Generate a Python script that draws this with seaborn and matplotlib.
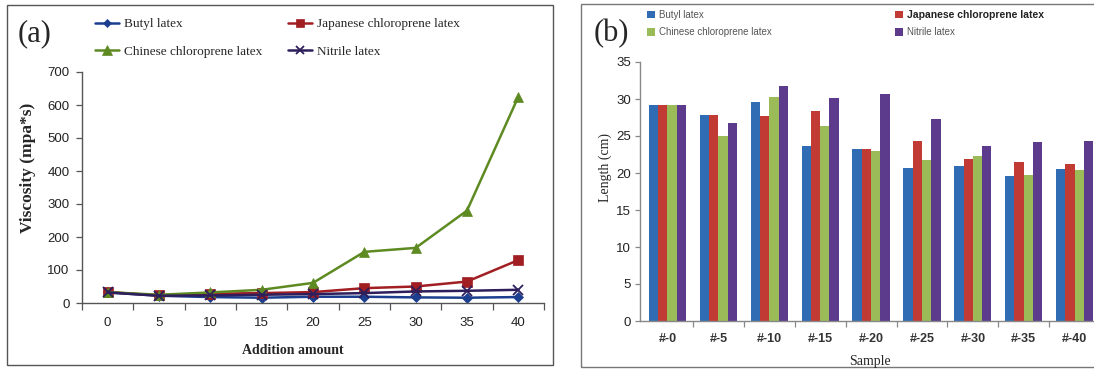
import numpy as np
import pandas as pd
import matplotlib
matplotlib.use('Agg')
import matplotlib.pyplot as plt
from matplotlib.patches import Rectangle, Patch
from matplotlib.lines import Line2D
import seaborn as sns

# (a) viscosity vs addition amount
amounts = [0, 5, 10, 15, 20, 25, 30, 35, 40]
visc_butyl = [32, 22, 18, 16, 19, 19, 17, 16, 18]
visc_japanese = [33, 23, 28, 30, 33, 45, 50, 65, 130]
visc_chinese = [33, 25, 32, 40, 61, 155, 167, 280, 625]
visc_nitrile = [32, 22, 23, 25, 27, 30, 35, 37, 40]

# (b) length per sample
samples = ['#-0', '#-5', '#-10', '#-15', '#-20', '#-25', '#-30', '#-35', '#-40']
len_butyl = [29.2, 27.9, 29.6, 23.7, 23.3, 20.7, 20.9, 19.6, 20.5]
len_japanese = [29.2, 27.8, 27.7, 28.4, 23.3, 24.3, 21.9, 21.5, 21.2]
len_chinese = [29.2, 25.0, 30.3, 26.3, 23.0, 21.7, 22.3, 19.7, 20.4]
len_nitrile = [29.2, 26.7, 31.8, 30.2, 30.7, 27.3, 23.6, 24.2, 24.3]

latex = ['Butyl latex', 'Japanese chloroprene latex', 'Chinese chloroprene latex', 'Nitrile latex']

sns.set_style('ticks')
plt.rcParams['font.family'] = ['Liberation Sans', 'DejaVu Sans']

W, H = 1094, 370
fig = plt.figure(figsize=(W / 100, H / 100), dpi=100)


def fx(x):
    return x / W


def fy(y):
    return 1 - y / H


# panel frames
fig.patches.append(Rectangle((fx(7), fy(365)), fx(546), 360 / H, transform=fig.transFigure,
                             fill=False, edgecolor='#555555', lw=1.0))
fig.patches.append(Rectangle((fx(581), fy(367)), fx(530), 363 / H, transform=fig.transFigure,
                             fill=False, edgecolor='#777777', lw=1.0, clip_on=False))

# ---------------- (a) line chart ----------------
ax_a = fig.add_axes([fx(82), fy(303), fx(462), 231 / H])

line_colors = ['#1B3F8E', '#A11E22', '#5E8A22', '#2E1F5C']
line_markers = ['D', 's', '^', 'x']
marker_sizes = [5, 7, 7.5, 6.5]
visc_series = [visc_butyl, visc_japanese, visc_chinese, visc_nitrile]

handles_a = []
for name, vals, c, m, ms in zip(latex, visc_series, line_colors, line_markers, marker_sizes):
    sns.lineplot(x=amounts, y=vals, ax=ax_a, color=c, marker=m, markersize=ms, lw=1.8,
                 markeredgecolor=c, markeredgewidth=1.3 if m == 'x' else 0.5, legend=False)
    handles_a.append(Line2D([], [], color=c, marker=m, markersize=ms - 1, lw=1.8,
                            markeredgecolor=c, markeredgewidth=1.3 if m == 'x' else 0.5))

ax_a.set_xlim(-2.5, 42.5)
ax_a.set_ylim(0, 700)
ax_a.set_xticks(amounts)
ax_a.set_xticklabels([str(a) for a in amounts])
ax_a.set_xticks(np.arange(-2.5, 43, 5), minor=True)
ax_a.set_yticks(np.arange(0, 701, 100))
ax_a.tick_params(axis='x', which='major', length=0, pad=10, labelsize=9.5, labelcolor='#222222')
ax_a.tick_params(axis='x', which='minor', length=5, width=0.9, color='#555555', direction='out')
ax_a.tick_params(axis='y', length=4, width=0.9, color='#555555', pad=5, labelsize=9.5,
                 labelcolor='#222222')
ax_a.set_xlabel('')
ax_a.set_ylabel('')
sns.despine(ax=ax_a)
for s in ['left', 'bottom']:
    ax_a.spines[s].set_color('#555555')
    ax_a.spines[s].set_linewidth(1.0)

fig.text(fx(18), fy(34), '(a)', fontsize=22, family='Liberation Serif', va='center', ha='left')
fig.text(fx(28), fy(168), 'Viscosity (mpa*s)', rotation=90, fontsize=12.5, fontweight='bold',
         family='Liberation Serif', ha='center', va='center')
fig.text(fx(293), fy(351), 'Addition amount', fontsize=10, fontweight='bold',
         family='Liberation Serif', ha='center', va='center')

leg_kw = dict(frameon=False, loc='upper left', borderpad=0, borderaxespad=0,
              prop={'family': 'Liberation Serif', 'size': 9.5},
              handlelength=1.85, handletextpad=0.35, labelspacing=1.15)
fig.legend([handles_a[0], handles_a[2]], [latex[0], latex[2]],
           bbox_to_anchor=(fx(95), fy(18)), **leg_kw)
fig.legend([handles_a[1], handles_a[3]], [latex[1], latex[3]],
           bbox_to_anchor=(fx(288), fy(18)), **leg_kw)

# ---------------- (b) grouped bars ----------------
ax_b = fig.add_axes([fx(640), fy(321), fx(454), 259 / H])

bar_colors = ['#2F6CB4', '#C13A33', '#9BBB59', '#5C3A8C']
df_b = pd.DataFrame({
    'sample': samples * 4,
    'length': len_butyl + len_japanese + len_chinese + len_nitrile,
    'latex': [n for n in latex for _ in samples],
})
sns.barplot(data=df_b, x='sample', y='length', hue='latex', hue_order=latex,
            palette=bar_colors, saturation=1, width=0.73, ax=ax_b, legend=False,
            errorbar=None, linewidth=0)

ax_b.set_xlim(-0.54, 8.38)
ax_b.set_ylim(0, 35)
ax_b.set_yticks(np.arange(0, 36, 5))
ax_b.set_xticks(np.arange(len(samples) - 1) + 0.5, minor=True)
ax_b.tick_params(axis='x', which='major', length=0, pad=9, labelsize=9, labelcolor='#333333')
ax_b.tick_params(axis='x', which='minor', length=4, width=0.9, color='#888888', direction='out')
ax_b.tick_params(axis='y', length=3.5, width=0.9, color='#888888', pad=3, labelsize=9.5,
                 labelcolor='#222222')
for lab in ax_b.get_xticklabels():
    lab.set_fontweight('bold')
ax_b.set_xlabel('')
ax_b.set_ylabel('')
sns.despine(ax=ax_b)
for s in ['left', 'bottom']:
    ax_b.spines[s].set_color('#888888')
    ax_b.spines[s].set_linewidth(1.0)

fig.text(fx(594), fy(34), '(b)', fontsize=22, family='Liberation Serif', va='center', ha='left')
fig.text(fx(605), fy(168), 'Length (cm)', rotation=90, fontsize=10,
         family='Liberation Serif', ha='center', va='center')
fig.text(fx(870), fy(361), 'Sample', fontsize=10, family='Liberation Serif',
         ha='center', va='center')

patches_b = [Patch(facecolor=c, edgecolor='none') for c in bar_colors]
legb_kw = dict(frameon=False, loc='upper left', borderpad=0, borderaxespad=0,
               handlelength=0.8, handleheight=0.8, handletextpad=0.4, labelspacing=0.75)
fig.legend([patches_b[0], patches_b[2]], [latex[0], latex[2]],
           bbox_to_anchor=(fx(647), fy(10)), prop={'size': 7}, labelcolor='#555555', **legb_kw)
leg2 = fig.legend([patches_b[1], patches_b[3]], [latex[1], latex[3]],
                  bbox_to_anchor=(fx(895), fy(10)), prop={'size': 7}, labelcolor='#555555',
                  **legb_kw)
leg2.get_texts()[0].set_fontweight('bold')
leg2.get_texts()[0].set_fontsize(7.5)
leg2.get_texts()[0].set_color('#222222')

fig.savefig('out.png', dpi=100, facecolor='white')
